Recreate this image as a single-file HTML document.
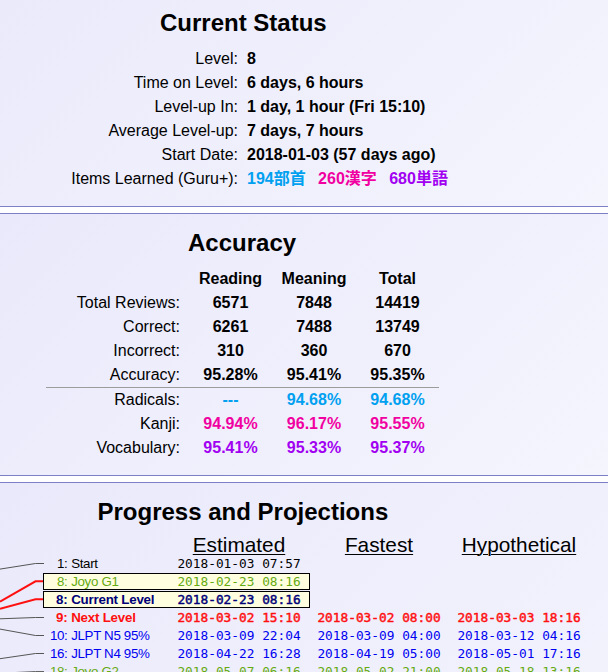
<!DOCTYPE html>
<html><head><meta charset="utf-8">
<style>
html,body{margin:0;padding:0;}
body{width:608px;height:672px;overflow:hidden;background:#fff;font-family:"Liberation Sans","Noto Sans CJK JP",sans-serif;color:#000;position:relative;}
.sec{position:absolute;left:0;width:608px;background:#ededfb;border-top:1px solid #7f7fc8;border-bottom:1px solid #7f7fc8;box-sizing:border-box;}
#s1{top:-1px;height:208px;background:linear-gradient(135deg,#eaeafb,#f5f5fe);}
#s2{top:213px;height:263px;background:linear-gradient(135deg,#e9e9fb,#f5f5fe);}
#s3{top:482px;height:420px;background:linear-gradient(135deg,#e9e9fb,#f5f5fe);}
h2{position:absolute;margin:0;font-size:24px;font-weight:bold;line-height:28px;white-space:nowrap;}
.row{position:absolute;left:0;height:24px;line-height:24px;font-size:16px;white-space:nowrap;}
.lbl{position:absolute;right:0;text-align:right;}
.row .l{position:absolute;text-align:right;right:auto;}
.b{font-weight:bold;}
.rad{color:#00a0f0;} .kan{color:#f100a1;} .voc{color:#a100f1;}
/* status */
.st{position:absolute;left:0;width:608px;height:24px;line-height:24px;font-size:16px;white-space:nowrap;}
.st .k{position:absolute;left:0;width:238px;text-align:right;}
.st .v{position:absolute;left:247px;font-weight:bold;}
/* accuracy */
.ac{position:absolute;left:0;width:608px;height:24px;line-height:24px;font-size:16px;white-space:nowrap;}
.ac .k{position:absolute;left:0;width:180px;text-align:right;}
.ac .c{position:absolute;width:84px;text-align:center;font-weight:bold;}
.ac .c1{left:188.5px;} .ac .c2{left:272px;} .ac .c3{left:355.5px;}
/* progress */
.ph{position:absolute;top:532px;font-size:20.8px;line-height:26px;text-decoration:underline;text-decoration-thickness:1px;text-underline-offset:2px;width:140px;text-align:center;}
.pr{position:absolute;left:0;width:608px;height:18px;line-height:18px;font-size:13.33px;letter-spacing:-0.33px;white-space:nowrap;}
.pr.b{letter-spacing:-0.22px;}
.pr.b .d{font-weight:normal;-webkit-text-stroke:0.45px currentColor;}
.pr .n{position:absolute;left:0;width:67.5px;text-align:right;}
.pr .t{position:absolute;left:71.2px;}
.pr .d{position:absolute;font-family:"DejaVu Sans Mono","Liberation Mono",monospace;font-size:12.8px;letter-spacing:0px;}
.pr .d1{left:177.4px;} .pr .d2{left:317.4px;} .pr .d3{left:457.4px;}
.box{position:absolute;left:43px;width:267px;height:17px;box-sizing:border-box;border:1px solid #000;background:#ffffe0;}
.cb{color:#0000f0;} .cg{color:#66aa11;} .cr{color:#ff1010;} .cn{color:#000078;} .ck{color:#000;}
</style></head><body>
<div class="sec" id="s1"></div>
<div class="sec" id="s2"></div>
<div class="sec" id="s3"></div>

<h2 style="left:160px;top:9px;">Current Status</h2>
<div class="st" style="top:47px"><span class="k">Level:</span><span class="v">8</span></div>
<div class="st" style="top:71px"><span class="k">Time on Level:</span><span class="v">6 days, 6 hours</span></div>
<div class="st" style="top:95px"><span class="k">Level-up In:</span><span class="v">1 day, 1 hour (Fri 15:10)</span></div>
<div class="st" style="top:119px"><span class="k">Average Level-up:</span><span class="v">7 days, 7 hours</span></div>
<div class="st" style="top:143px"><span class="k">Start Date:</span><span class="v">2018-01-03 (57 days ago)</span></div>
<div class="st" style="top:167px"><span class="k">Items Learned (Guru+):</span><span class="v"><span class="rad">194部首</span><span class="kan" style="margin-left:12.4px">260漢字</span><span class="voc" style="margin-left:12.4px">680単語</span></span></div>

<h2 style="left:188px;top:229px;">Accuracy</h2>
<div class="ac" style="top:267px"><span class="c c1">Reading</span><span class="c c2">Meaning</span><span class="c c3">Total</span></div>
<div class="ac" style="top:291px"><span class="k">Total Reviews:</span><span class="c c1">6571</span><span class="c c2">7848</span><span class="c c3">14419</span></div>
<div class="ac" style="top:315px"><span class="k">Correct:</span><span class="c c1">6261</span><span class="c c2">7488</span><span class="c c3">13749</span></div>
<div class="ac" style="top:339px"><span class="k">Incorrect:</span><span class="c c1">310</span><span class="c c2">360</span><span class="c c3">670</span></div>
<div class="ac" style="top:363px"><span class="k">Accuracy:</span><span class="c c1">95.28%</span><span class="c c2">95.41%</span><span class="c c3">95.35%</span></div>
<div style="position:absolute;left:46px;top:387px;width:393px;height:1px;background:#9c9c9c;"></div>
<div class="ac" style="top:388px"><span class="k">Radicals:</span><span class="c c1 rad">---</span><span class="c c2 rad">94.68%</span><span class="c c3 rad">94.68%</span></div>
<div class="ac" style="top:412px"><span class="k">Kanji:</span><span class="c c1 kan">94.94%</span><span class="c c2 kan">96.17%</span><span class="c c3 kan">95.55%</span></div>
<div class="ac" style="top:436px"><span class="k">Vocabulary:</span><span class="c c1 voc">95.41%</span><span class="c c2 voc">95.33%</span><span class="c c3 voc">95.37%</span></div>

<h2 style="left:97.5px;top:498px;">Progress and Projections</h2>
<div class="ph" style="left:169px">Estimated</div>
<div class="ph" style="left:309px">Fastest</div>
<div class="ph" style="left:449px">Hypothetical</div>

<svg style="position:absolute;left:0;top:0" width="608" height="672" viewBox="0 0 608 672">
<g fill="none" stroke="#555" stroke-width="1">
<polyline points="0,569.1 35.5,563.5 44,563.5"/>
<polyline points="0,618.8 35.5,617.5 44,617.5"/>
<polyline points="0,629.1 35.5,635.5 44,635.5"/>
<polyline points="0,658.7 35.5,653.5 44,653.5"/>
<polyline points="0,673.2 35.5,671.6 44,671.6"/>
</g>
<g fill="none" stroke="#ff1010" stroke-width="2">
<polyline points="0,601.7 35.5,581.3 43,581.3"/>
<polyline points="0,608.8 35.5,599.3 43,599.3"/>
</g>
</svg>
<div class="box" style="top:573px"></div>
<div class="box" style="top:591px"></div>

<div class="pr" style="top:555px"><span class="n ck">1:</span><span class="t ck">Start</span><span class="d d1 ck">2018-01-03 07:57</span></div>
<div class="pr" style="top:573px"><span class="n cg">8:</span><span class="t cg">Joyo G1</span><span class="d d1 cg">2018-02-23 08:16</span></div>
<div class="pr b" style="top:591px"><span class="n cn">8:</span><span class="t cn">Current Level</span><span class="d d1 cn">2018-02-23 08:16</span></div>
<div class="pr b" style="top:609px"><span class="n cr">9:</span><span class="t cr">Next Level</span><span class="d d1 cr">2018-03-02 15:10</span><span class="d d2 cr">2018-03-02 08:00</span><span class="d d3 cr">2018-03-03 18:16</span></div>
<div class="pr" style="top:627px"><span class="n cb">10:</span><span class="t cb">JLPT N5 95%</span><span class="d d1 cb">2018-03-09 22:04</span><span class="d d2 cb">2018-03-09 04:00</span><span class="d d3 cb">2018-03-12 04:16</span></div>
<div class="pr" style="top:645px"><span class="n cb">16:</span><span class="t cb">JLPT N4 95%</span><span class="d d1 cb">2018-04-22 16:28</span><span class="d d2 cb">2018-04-19 05:00</span><span class="d d3 cb">2018-05-01 17:16</span></div>
<div class="pr" style="top:663px"><span class="n cg">18:</span><span class="t cg">Joyo G2</span><span class="d d1 cg">2018-05-07 06:16</span><span class="d d2 cg">2018-05-02 21:00</span><span class="d d3 cg">2018-05-18 13:16</span></div>
</body></html>
